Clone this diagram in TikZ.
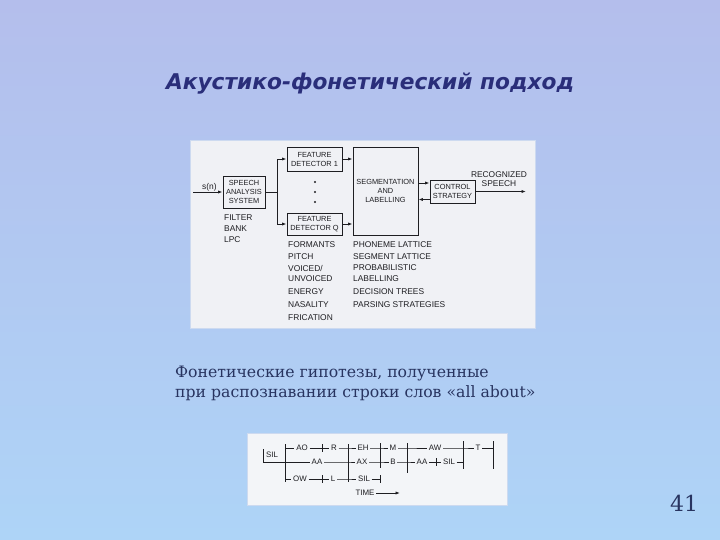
\documentclass[tikz,border=0pt]{standalone}
\usepackage{fontspec}
\setmainfont{DejaVu Serif}
\newfontfamily\titlefont{DejaVu Sans}
\newfontfamily\diagfont{Liberation Sans}
\usetikzlibrary{arrows.meta,calc}
\definecolor{bgtop}{RGB}{180,190,236}
\definecolor{bgbot}{RGB}{174,212,247}
\definecolor{titlecol}{RGB}{42,46,122}
\definecolor{capcol}{RGB}{40,52,96}
\definecolor{panelA}{RGB}{240,241,245}
\definecolor{panelB}{RGB}{243,245,248}
\definecolor{panelEdge}{RGB}{205,218,240}
\definecolor{ink}{RGB}{30,30,34}
\begin{document}
\begin{tikzpicture}[x=1pt,y=-1pt,
  box/.style={draw=ink, line width=0.9pt, fill=panelA, inner sep=1pt, align=center,
    font=\diagfont\fontsize{7.4}{9}\selectfont, text=ink},
  lbl/.style={anchor=west, inner sep=0pt, font=\diagfont\fontsize{8.4}{9.5}\selectfont, text=ink},
  conn/.style={draw=ink, line width=0.9pt},
  arr/.style={conn, -{Latex[length=4.5pt,width=3.2pt]}},
  ph/.style={inner sep=1.6pt, font=\diagfont\fontsize{7.9}{8}\selectfont, text=ink},
  lat/.style={draw=ink, line width=0.8pt}]
\shade[top color=bgtop, bottom color=bgbot] (0,0) rectangle (720,540);
\useasboundingbox (0,0) rectangle (720,540);

% title
\node[anchor=base, inner sep=0pt, font=\titlefont\bfseries\itshape\fontsize{21.7}{24}\selectfont, text=titlecol] (title) at (370,90) {Акустико-фонетический подход};

% ---------- diagram 1 ----------
\fill[panelA, draw=panelEdge, line width=0.8pt] (190,140) rectangle (535,328);

\node[box, minimum width=42pt, minimum height=32pt] (sas) at (244,192) {SPEECH\\ANALYSIS\\SYSTEM};
\node[box, minimum width=55pt, minimum height=24pt] (fd1) at (314.5,159) {FEATURE\\DETECTOR 1};
\node[box, minimum width=55pt, minimum height=22pt] (fdq) at (314.5,224) {FEATURE\\DETECTOR Q};
\node[box, minimum width=65pt, minimum height=88pt] (seg) at (385.5,191) {SEGMENTATION\\AND\\LABELLING};
\node[box, minimum width=45pt, minimum height=23pt] (cs) at (452.5,191.5) {CONTROL\\STRATEGY};

\node[lbl] (sn) at (202,187) {s(n)};
\coordinate (in) at (193,192);
\coordinate (br) at (277,192);
\coordinate (out) at (526,191.5);
\draw[arr] (in) -- (sas.west);
\draw[conn] (sas.east) -- (br);
\draw[arr] (br) |- (fd1.west);
\draw[arr] (br) |- (fdq.west);
\draw[arr] (fd1.east) -- (fd1.east -| seg.west);
\draw[arr] (fdq.east) -- (fdq.east -| seg.west);
\draw[arr] ([yshift=8pt]seg.east) -- ([yshift=8pt]seg.east -| cs.west);
\draw[arr] ([yshift=-8pt]cs.west) -- ([yshift=-8pt]cs.west -| seg.east);
\draw[arr] (cs.east) -- (out);
\node[lbl, anchor=south, align=center] (rs) at (499,187) {RECOGNIZED\\SPEECH};

\fill[ink] (315,182) circle (1.2) (315,192) circle (1.2) (315,202) circle (1.2);

\node[lbl] (filter) at (224,218) {FILTER};
\node[lbl] (bank) at (224,228.5) {BANK};
\node[lbl] (lpc) at (224,240) {LPC};

\node[lbl] (f1) at (288,245) {FORMANTS};
\node[lbl] (f2) at (288,257) {PITCH};
\node[lbl] (f3) at (288,268) {VOICED/};
\node[lbl] (f4) at (288,278.5) {UNVOICED};
\node[lbl] (f5) at (288,292) {ENERGY};
\node[lbl] (f6) at (288,305) {NASALITY};
\node[lbl] (f7) at (288,318) {FRICATION};

\node[lbl] (g1) at (353,245) {PHONEME LATTICE};
\node[lbl] (g2) at (353,257) {SEGMENT LATTICE};
\node[lbl] (g3) at (353,268) {PROBABILISTIC};
\node[lbl] (g4) at (353,278.5) {LABELLING};
\node[lbl] (g5) at (353,292) {DECISION TREES};
\node[lbl] (g6) at (353,305) {PARSING STRATEGIES};

% caption
\node[anchor=base west, inner sep=0pt, font=\fontsize{15.7}{20}\selectfont, text=capcol] (cap1) at (175,377) {Фонетические гипотезы, полученные};
\node[anchor=base west, inner sep=0pt, font=\fontsize{15.7}{20}\selectfont, text=capcol] (cap2) at (175,397) {при распознавании строки слов «all about»};

% ---------- diagram 2 ----------
\fill[panelB, draw=panelEdge, line width=1pt] (247,433) rectangle (507,505);

% bars
\draw[lat] (285,444) -- (285,482);
\draw[lat] (348,444) -- (348,482);
\draw[lat] (380,443) -- (380,468);
\draw[lat] (407,443) -- (407,473);
\draw[lat] (463,441) -- (463,469);
\draw[lat] (493,441) -- (493,469);
% ticks
\draw[lat] (322,444) -- (322,452);
\draw[lat] (322,475) -- (322,483);
\draw[lat] (436,458) -- (436,466);
\draw[lat] (380,475) -- (380,483);

\coordinate (v0a) at (285,448); \coordinate (v0b) at (285,462); \coordinate (v0c) at (285,479);
\coordinate (v1a) at (348,448); \coordinate (v1b) at (348,462); \coordinate (v1c) at (348,479);
\coordinate (v2a) at (380,448); \coordinate (v2b) at (380,462); \coordinate (v2c) at (380,479);
\coordinate (v3a) at (407,448); \coordinate (v3b) at (407,462);
\coordinate (v4a) at (463,448); \coordinate (v4b) at (463,462);
\coordinate (v5a) at (493,448);

\node[ph] (ao) at (302,448) {AO};
\node[ph] (r) at (334,448) {R};
\node[ph] (eh) at (363,448) {EH};
\node[ph] (m) at (393,448) {M};
\node[ph] (aw) at (435,448) {AW};
\node[ph] (t) at (478,448) {T};

\node[ph] (aa) at (317,462) {AA};
\node[ph] (ax) at (362,462) {AX};
\node[ph] (b) at (393,462) {B};
\node[ph] (aab) at (422,462) {AA};
\node[ph] (silb) at (449,462) {SIL};

\node[ph] (ow) at (300,479) {OW};
\node[ph] (l) at (333,479) {L};
\node[ph] (silc) at (364,479) {SIL};

\node[ph] (sil0) at (272,455) {SIL};
\coordinate (s0) at (263,449);

\draw[lat] (v0a) -- (ao) -- (r) -- (v1a) -- (eh) -- (v2a) -- (m) -- (v3a) -- (aw) -- (v4a) -- (t) -- (v5a);
\draw[lat] (v0b) -- (aa) -- (v1b) -- (ax) -- (v2b) -- (b) -- (v3b) -- (aab) -- (silb) -- (v4b);
\draw[lat] (v0c) -- (ow) -- (l) -- (v1c) -- (silc) -- (v2c);
\draw[lat] (s0) |- (v0b);

\node[ph] (time) at (365,493) {TIME};
\coordinate (tend) at (400,493);
\draw[lat, -{Latex[length=4.5pt,width=3.2pt]}] (time.east) -- (tend);

% page number
\node[inner sep=0pt, font=\fontsize{22}{24}\selectfont, text=capcol] (pg) at (684,503) {41};
\end{tikzpicture}
\end{document}
